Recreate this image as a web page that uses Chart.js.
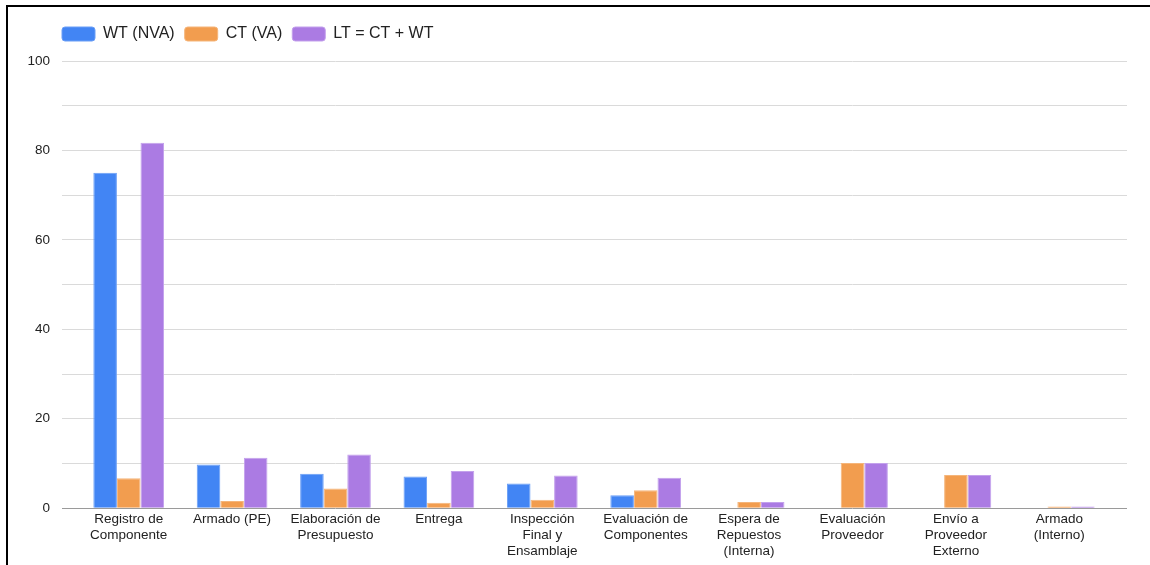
<!DOCTYPE html>
<html>
<head>
<meta charset="utf-8">
<script src="https://cdn.jsdelivr.net/npm/chart.js@4"></script>
<style>
    html, body { margin: 0; padding: 0; background: #fff; }
    #wrap { position: relative; width: 1150px; height: 565px; overflow: hidden; }
    #frame {
        position: absolute; left: 6px; top: 5px; right: 0; bottom: 0;
        border-left: 2.5px solid #000; border-top: 2.5px solid #000;
    }
    #chart { position: absolute; left: 0; top: 0; }
</style>
</head>
<body>
<div id="wrap">
    <div id="frame"></div>
    <canvas id="chart" width="1150" height="565"></canvas>
</div>
<script>
// Categories (process steps)
const categories = [
    ['Registro de', 'Componente'],
    ['Armado (PE)'],
    ['Elaboración de', 'Presupuesto'],
    ['Entrega'],
    ['Inspección', 'Final y', 'Ensamblaje'],
    ['Evaluación de', 'Componentes'],
    ['Espera de', 'Repuestos', '(Interna)'],
    ['Evaluación', 'Proveedor'],
    ['Envío a', 'Proveedor', 'Externo'],
    ['Armado', '(Interno)']
];

// Series values
const wtValues = [75, 9.8, 7.7, 7.1, 5.5, 2.9, 0, 0, 0, 0];
const ctValues = [6.7, 1.6, 4.4, 1.2, 1.9, 4.0, 1.4, 10.1, 7.4, 0.4];
const ltValues = [81.7, 11.3, 12.0, 8.3, 7.3, 6.8, 1.4, 10.1, 7.4, 0.4];

// Y axis labels shown every 20
const yLabelValues = [0, 20, 40, 60, 80, 100];

const textColor = '#222';
const fontFamily = '"Liberation Sans", Arial, sans-serif';

function gridColor(ctx) {
    return ctx.tick && ctx.tick.value === 0 ? '#9a9a9a' : '#dadada';
}

// legend: extra space under it and start it at the gridline edge
const legendTweak = {
    id: 'legendTweak',
    beforeInit(chart) {
        const fit = chart.legend.fit;
        chart.legend.fit = function() {
            fit.bind(chart.legend)();
            this.height += 9;
        };
    },
    afterLayout(chart) {
        chart.legend.left += 32;
        chart.legend.right += 32;
    }
};

const ctx = document.getElementById('chart').getContext('2d');
const chart = new Chart(ctx, {
    type: 'bar',
    data: {
        labels: categories,
        datasets: [
            {
                label: 'WT (NVA)',
                data: wtValues,
                backgroundColor: '#4285f4',
                borderColor: '#6a9ef6',
                borderWidth: 1
            },
            {
                label: 'CT (VA)',
                data: ctValues,
                backgroundColor: '#f29d4f',
                borderColor: '#f5b57a',
                borderWidth: 1
            },
            {
                label: 'LT = CT + WT',
                data: ltValues,
                backgroundColor: '#ab7be3',
                borderColor: '#c3a1ec',
                borderWidth: 1
            }
        ]
    },
    plugins: [legendTweak],
    options: {
        responsive: false,
        animation: false,
        categoryPercentage: 0.684,
        barPercentage: 1,
        layout: {
            padding: { left: 20, right: 23, top: 16, bottom: 3 }
        },
        plugins: {
            legend: {
                position: 'top',
                align: 'start',
                labels: {
                    boxWidth: 33,
                    boxHeight: 14,
                    useBorderRadius: true,
                    borderRadius: 3,
                    padding: 10,
                    color: textColor,
                    font: { family: fontFamily, size: 16 }
                }
            },
            tooltip: { enabled: false }
        },
        scales: {
            x: {
                grid: { display: false, drawTicks: false },
                border: { display: false },
                ticks: {
                    color: textColor,
                    autoSkip: false,
                    maxRotation: 0,
                    padding: 3,
                    font: { family: fontFamily, size: 13.5, lineHeight: 1.18 }
                }
            },
            y: {
                min: 0,
                max: 100,
                afterFit: (scale) => { scale.width = 57; },
                border: { display: false },
                grid: {
                    color: gridColor,
                    tickColor: gridColor,
                    drawTicks: true,
                    tickLength: 15,
                    lineWidth: 1
                },
                ticks: {
                    stepSize: 10,
                    padding: 12,
                    color: textColor,
                    font: { family: fontFamily, size: 13.5 },
                    callback: (v) => yLabelValues.includes(v) ? v : ''
                }
            },
            yRight: {
                position: 'right',
                min: 0,
                max: 100,
                afterFit: (scale) => { scale.width = 16; },
                border: { display: false },
                grid: {
                    drawOnChartArea: false,
                    drawTicks: true,
                    tickLength: 16,
                    tickColor: gridColor
                },
                ticks: {
                    stepSize: 10,
                    padding: 0,
                    callback: () => ''
                }
            }
        }
    }
});
</script>
</body>
</html>
